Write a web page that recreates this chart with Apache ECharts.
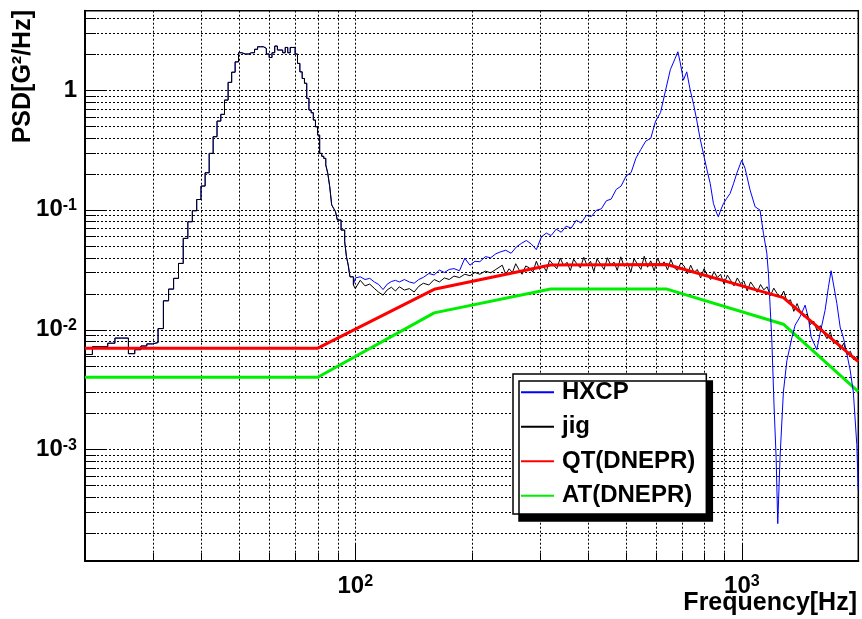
<!DOCTYPE html>
<html>
<head>
<meta charset="utf-8">
<script src="https://cdn.jsdelivr.net/npm/echarts@6/dist/echarts.min.js"></script>
<style>
  html, body { margin: 0; padding: 0; background: #fff; }
  #chart { width: 862px; height: 619px; }
</style>
</head>
<body>
<div id="chart"></div>
<script>
// Axis ranges: frequency [Hz], PSD [G^2/Hz]
const FREQ_MIN = 20, FREQ_MAX = 2000;
const PSD_MIN = 1.17e-4, PSD_MAX = 4.6;

// Below 100 Hz both spectra share the same 1 Hz bins (first bin edge 19.9 Hz)
const lowBinStartHz = 19.9;
const lowBinWidthHz = 1;
const lowBinPsd = [
  0.0062, 0.0072, 0.0072, 0.0077, 0.0085, 0.0085, 0.0063, 0.0068, 0.0073, 0.0076,
  0.0078, 0.0102, 0.0174, 0.0218, 0.0268, 0.0357, 0.0578, 0.0796, 0.0983, 0.122,
  0.158, 0.204, 0.296, 0.408, 0.551, 0.627, 0.825, 1.16, 1.41, 1.72,
  2.05, 2.00, 2.00, 2.05, 2.05, 2.19, 2.30, 2.30, 2.23, 2.00,
  1.87, 2.05, 2.33, 2.16, 2.16, 2.05, 2.27, 2.05, 2.27, 2.27,
  2.00, 1.67, 1.42, 1.25, 1.14, 0.853, 0.681, 0.647, 0.562, 0.494,
  0.421, 0.296, 0.280, 0.269, 0.237, 0.202, 0.156, 0.110, 0.103, 0.0964,
  0.0822, 0.0822, 0.0678, 0.0678, 0.0542, 0.0406, 0.0346, 0.0276, 0.0276, 0.0236
];

// HXCP above 100 Hz: [frequency Hz, PSD]
const hxcpHigh = [
  [100, 0.0270], [103, 0.0276], [106, 0.0262], [109, 0.0268], [112, 0.0250], [115, 0.0238],
  [118, 0.0216], [121, 0.0240], [124, 0.0252], [127, 0.0258], [130, 0.0250], [134, 0.0262],
  [138, 0.0250], [142, 0.0244], [146, 0.0262], [150, 0.0273], [155, 0.0294], [160, 0.0286],
  [165, 0.0314], [170, 0.0300], [175, 0.0318], [180, 0.0323], [186, 0.0310], [192, 0.0394],
  [198, 0.0345], [204, 0.0372], [210, 0.0369], [217, 0.0407], [224, 0.0398], [231, 0.0430],
  [238, 0.0447], [245, 0.0460], [253, 0.0434], [261, 0.0490], [269, 0.0525], [277, 0.0555],
  [285, 0.0520], [294, 0.0465], [303, 0.0595], [312, 0.0640], [321, 0.0610], [331, 0.0690],
  [341, 0.0650], [351, 0.0730], [362, 0.0705], [373, 0.0820], [384, 0.0775], [396, 0.0900],
  [408, 0.0880], [420, 0.0990], [433, 0.1020], [446, 0.1190], [459, 0.1230], [473, 0.1480],
  [487, 0.1580], [502, 0.1920], [517, 0.2050], [532, 0.2700], [548, 0.3200], [564, 0.3750],
  [581, 0.3950], [598, 0.5500], [616, 0.6500], [634, 0.9800], [653, 1.4800], [672, 1.8400],
  [683, 2.0900], [692, 1.7200], [706, 1.2100], [720, 1.4200], [735, 1.0000], [750, 0.7600],
  [764, 0.5620], [780, 0.3900], [795, 0.2960], [811, 0.2200], [828, 0.1660], [844, 0.1130],
  [861, 0.0934], [869, 0.0876], [882, 0.1000], [896, 0.1130], [914, 0.1250], [932, 0.1370],
  [951, 0.1650], [970, 0.2020], [999, 0.2600], [1019, 0.2220], [1050, 0.1460], [1082, 0.1060],
  [1114, 0.0995], [1137, 0.0635], [1160, 0.0434], [1171, 0.0295], [1183, 0.0156], [1195, 0.0082],
  [1211, 0.0023], [1226, 0.00086], [1238, 0.00024], [1255, 0.00086], [1280, 0.0030], [1307, 0.0055],
  [1346, 0.0085], [1373, 0.0109], [1414, 0.0128], [1457, 0.0160], [1486, 0.0125], [1510, 0.0087],
  [1562, 0.0068], [1593, 0.0093], [1641, 0.0145], [1674, 0.0226], [1701, 0.0310], [1725, 0.0240],
  [1760, 0.0166], [1795, 0.0105], [1831, 0.0085], [1868, 0.0063], [1905, 0.0046], [1942, 0.0030],
  [1982, 0.0011], [2000, 0.00046]
];

// jig above 100 Hz: [frequency Hz, PSD]
const jigHigh = [
  [100, 0.0220], [103, 0.0258], [106, 0.0232], [109, 0.0240], [112, 0.0221], [115, 0.0205],
  [118, 0.0194], [121, 0.0215], [124, 0.0226], [127, 0.0210], [130, 0.0228], [134, 0.0214],
  [138, 0.0220], [142, 0.0206], [146, 0.0230], [150, 0.0244], [155, 0.0236], [160, 0.0262],
  [165, 0.0250], [170, 0.0270], [175, 0.0262], [180, 0.0280], [186, 0.0272], [192, 0.0290],
  [198, 0.0282], [204, 0.0300], [210, 0.0290], [217, 0.0308], [224, 0.0298], [231, 0.0318],
  [240, 0.0345], [245, 0.0290], [250, 0.0322], [255, 0.0300], [260, 0.0355], [265, 0.0318],
  [270, 0.0290], [276, 0.0340], [282, 0.0328], [288, 0.0302], [294, 0.0372], [300, 0.0318],
  [306, 0.0345], [312, 0.0306], [318, 0.0380], [325, 0.0350], [332, 0.0322], [339, 0.0395],
  [346, 0.0342], [353, 0.0365], [360, 0.0310], [367, 0.0388], [374, 0.0355], [382, 0.0328],
  [390, 0.0402], [398, 0.0340], [406, 0.0372], [414, 0.0305], [422, 0.0390], [431, 0.0352],
  [440, 0.0318], [449, 0.0398], [458, 0.0345], [467, 0.0366], [476, 0.0312], [486, 0.0405],
  [496, 0.0338], [506, 0.0360], [516, 0.0302], [526, 0.0392], [537, 0.0350], [548, 0.0318],
  [559, 0.0410], [570, 0.0332], [581, 0.0375], [593, 0.0308], [605, 0.0396], [617, 0.0345],
  [629, 0.0368], [642, 0.0315], [655, 0.0385], [668, 0.0330], [681, 0.0312], [695, 0.0360],
  [709, 0.0340], [723, 0.0292], [737, 0.0345], [752, 0.0300], [767, 0.0318], [782, 0.0270],
  [798, 0.0322], [814, 0.0285], [830, 0.0262], [847, 0.0305], [864, 0.0272], [881, 0.0290],
  [899, 0.0240], [917, 0.0285], [935, 0.0258], [954, 0.0232], [973, 0.0270], [992, 0.0242],
  [1012, 0.0255], [1032, 0.0210], [1053, 0.0250], [1074, 0.0228], [1095, 0.0205], [1117, 0.0238],
  [1139, 0.0215], [1162, 0.0228], [1185, 0.0192], [1209, 0.0222], [1233, 0.0200], [1258, 0.0185],
  [1283, 0.0210], [1309, 0.0170], [1335, 0.0178], [1362, 0.0142], [1389, 0.0165], [1417, 0.0140],
  [1445, 0.0128], [1474, 0.0135], [1503, 0.0110], [1533, 0.0118], [1564, 0.0098], [1595, 0.0108],
  [1627, 0.0094], [1660, 0.0084], [1693, 0.0096], [1727, 0.0076], [1762, 0.0082], [1797, 0.0068],
  [1833, 0.0077], [1870, 0.0062], [1907, 0.0066], [1945, 0.0056], [1984, 0.0060], [2000, 0.0054]
];

// DNEPR qualification (QT) and acceptance (AT) test levels
const qtFreqHz = [20, 80, 160, 320, 640, 1280, 2000];
const qtPsd    = [0.007, 0.007, 0.0217, 0.0346, 0.035, 0.0185, 0.0054];
const atFreqHz = [20, 80, 160, 320, 640, 1280, 2000];
const atPsd    = [0.004, 0.004, 0.0138, 0.0218, 0.0218, 0.0111, 0.00303];

// Grid lines and tick marks
const freqGridHz = [30, 40, 50, 60, 70, 80, 90, 100, 200, 300, 400, 500, 600, 700, 800, 900, 1000];
const freqMajorHz = [100, 1000];
const psdGrid = [
  2e-4, 3e-4, 4e-4, 5e-4, 6e-4, 7e-4, 8e-4, 9e-4,
  1e-3, 2e-3, 3e-3, 4e-3, 5e-3, 6e-3, 7e-3, 8e-3, 9e-3,
  1e-2, 2e-2, 3e-2, 4e-2, 5e-2, 6e-2, 7e-2, 8e-2, 9e-2,
  0.1, 0.2, 0.3, 0.4, 0.5, 0.6, 0.7, 0.8, 0.9,
  1, 2, 3, 4
];
const psdMajor = [1e-3, 1e-2, 1e-1, 1];

const FONT = "'Liberation Sans', Arial, Helvetica, sans-serif";

// Histogram bins -> step outline vertices
function binOutline(start, width, values) {
  const pts = [];
  values.forEach((v, i) => {
    pts.push([start + i * width, v]);
    pts.push([start + (i + 1) * width, v]);
  });
  return pts;
}
const lowOutline = binOutline(lowBinStartHz, lowBinWidthHz, lowBinPsd);
const hxcpData = lowOutline.concat(hxcpHigh);
const jigData = lowOutline.concat(jigHigh);
const qtData = qtFreqHz.map((f, i) => [f, qtPsd[i]]);
const atData = atFreqHz.map((f, i) => [f, atPsd[i]]);

function isMajor(list, v) {
  return list.some(m => Math.abs(m - v) / m < 1e-6);
}

// Dotted grid line plus an inward tick for each grid value
function gridSeries(values, majors, vertical) {
  return {
    type: 'custom',
    silent: true,
    z: 1,
    animation: false,
    data: values.map(v => vertical ? [v, PSD_MIN] : [FREQ_MIN, v]),
    encode: { x: 0, y: 1 },
    renderItem(params, api) {
      const cs = params.coordSys;
      const p = api.coord([api.value(0), api.value(1)]);
      const major = isMajor(majors, vertical ? api.value(0) : api.value(1));
      const dotted = { stroke: '#000', lineWidth: 1, lineDash: [2, 2] };
      const tick = { stroke: '#000', lineWidth: 1 };
      if (vertical) {
        const x = Math.round(p[0]) + 0.5;
        const yb = cs.y + cs.height;
        return {
          type: 'group',
          children: [
            { type: 'line', shape: { x1: x, y1: cs.y, x2: x, y2: yb }, style: dotted },
            { type: 'line', shape: { x1: x, y1: yb, x2: x, y2: yb - (major ? 17 : 8) }, style: tick }
          ]
        };
      }
      const y = Math.round(p[1]) + 0.5;
      return {
        type: 'group',
        children: [
          { type: 'line', shape: { x1: cs.x, y1: y, x2: cs.x + cs.width, y2: y }, style: dotted },
          { type: 'line', shape: { x1: cs.x, y1: y, x2: cs.x + (major ? 22 : 11), y2: y }, style: tick }
        ]
      };
    }
  };
}

function powerLabel(v) {
  const lg = Math.log10(v);
  const e = Math.round(lg);
  if (Math.abs(lg - e) > 1e-6) return '';
  return e === 0 ? '{b|1}' : '{b|10}{s|' + e + '}';
}

const labelRich = {
  b: { fontFamily: FONT, fontWeight: 'bold', fontSize: 24, color: '#000' },
  s: { fontFamily: FONT, fontWeight: 'bold', fontSize: 16, color: '#000', verticalAlign: 'top' }
};

const chart = echarts.init(document.getElementById('chart'), null, { renderer: 'canvas' });
chart.setOption({
  backgroundColor: '#fff',
  animation: false,
  grid: {
    left: 85, right: 3.7, top: 10.7, bottom: 58,
    show: true, borderColor: '#000', borderWidth: 1.5, backgroundColor: 'transparent'
  },
  xAxis: {
    type: 'log', logBase: 10, min: FREQ_MIN, max: FREQ_MAX,
    axisLine: { show: true, onZero: false, lineStyle: { color: '#000', width: 2 } },
    axisTick: { show: false },
    splitLine: { show: false },
    axisLabel: { margin: 13, formatter: powerLabel, rich: labelRich }
  },
  yAxis: {
    type: 'log', logBase: 10, min: PSD_MIN, max: PSD_MAX,
    axisLine: { show: true, onZero: false, lineStyle: { color: '#000', width: 2 } },
    axisTick: { show: false },
    splitLine: { show: false },
    axisLabel: { margin: 8, formatter: powerLabel, rich: labelRich }
  },
  legend: {
    orient: 'vertical',
    left: 513, top: 374,
    data: ['HXCP', 'jig', 'QT(DNEPR)', 'AT(DNEPR)'],
    itemWidth: 33, itemHeight: 14, itemGap: 10,
    padding: [6, 11, 6, 7],
    backgroundColor: '#fff',
    borderColor: '#000', borderWidth: 1.5, borderRadius: 0,
    shadowColor: '#000', shadowBlur: 0, shadowOffsetX: 6, shadowOffsetY: 7,
    selectedMode: false,
    itemStyle: { opacity: 0 },
    textStyle: {
      fontFamily: FONT, fontWeight: 'bold', fontSize: 24, color: '#000',
      lineHeight: 24.5, padding: [0, 0, 0, 3]
    }
  },
  graphic: [
    {
      type: 'text', x: 23, y: 10, rotation: Math.PI / 2, silent: true,
      style: {
        text: 'PSD[G²/Hz]', fill: '#000',
        font: 'bold 25px ' + FONT,
        align: 'right', verticalAlign: 'middle',
        textAlign: 'right', textVerticalAlign: 'middle'
      }
    },
    {
      type: 'text', x: 857, y: 603, silent: true,
      style: {
        text: 'Frequency[Hz]', fill: '#000',
        font: 'bold 25px ' + FONT,
        align: 'right', verticalAlign: 'middle',
        textAlign: 'right', textVerticalAlign: 'middle'
      }
    }
  ],
  series: [
    gridSeries(freqGridHz, freqMajorHz, true),
    gridSeries(psdGrid, psdMajor, false),
    {
      name: 'AT(DNEPR)', type: 'line', data: atData, symbol: 'none', z: 2,
      lineStyle: { color: '#00ee00', width: 3 }, itemStyle: { color: '#00ee00' }
    },
    {
      name: 'HXCP', type: 'line', data: hxcpData, symbol: 'none', z: 3,
      lineStyle: { color: '#0000ff', width: 1 }, itemStyle: { color: '#0000ff' }
    },
    {
      name: 'jig', type: 'line', data: jigData, symbol: 'none', z: 4,
      lineStyle: { color: '#000', width: 1 }, itemStyle: { color: '#000' }
    },
    {
      name: 'QT(DNEPR)', type: 'line', data: qtData, symbol: 'none', z: 5,
      lineStyle: { color: '#ff0000', width: 3 }, itemStyle: { color: '#ff0000' }
    }
  ]
});
</script>
</body>
</html>
